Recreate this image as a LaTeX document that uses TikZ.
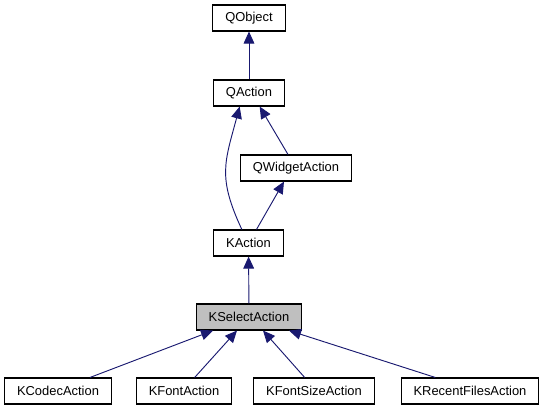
\documentclass[tikz,border=0pt]{standalone}
\usepackage{fontspec}
\setmainfont{Liberation Sans}
\usetikzlibrary{arrows.meta,positioning}
\definecolor{edgeblue}{HTML}{191970}
\definecolor{selgrey}{HTML}{BFBFBF}

\begin{document}
\begin{tikzpicture}[x=0.75pt,y=-0.75pt,>={Triangle[length=9pt,width=8pt]}]
\tikzset{cls/.style={draw,thick,fill=white,minimum height=19.5pt,inner xsep=9.3pt,inner ysep=0pt,
    font=\fontsize{9.7pt}{11pt}\selectfont},
  inh/.style={->,edgeblue,line width=0.7pt}}
\useasboundingbox (0,0) rectangle (544,411);
% base classes
\node[cls] (qobject) at (249,18) {QObject};
\node[cls] (qaction) at (249,93) {QAction};
\node[cls] (qwidgetaction) at (296,168) {QWidgetAction};
\node[cls] (kaction) at (248.5,243) {KAction};
\node[cls,fill=selgrey] (kselectaction) at (249,317) {KSelectAction};
% derived classes
\node[cls] (kcodecaction) at (58,391) {KCodecAction};
\node[cls] (kfontaction) at (184,391) {KFontAction};
\node[cls] (kfontsizeaction) at (314,391) {KFontSizeAction};
\node[cls] (krecentfilesaction) at (470,391) {KRecentFilesAction};
% inheritance
\draw[inh] (qaction) -- (qobject);
\draw[inh] ([xshift=-5pt]kaction.north) to[out=115,in=-105,looseness=1.2] ([xshift=-7pt]qaction.south);
\draw[inh] ([xshift=-6pt]qwidgetaction.north) -- ([xshift=8pt]qaction.south);
\draw[inh] ([xshift=6pt]kaction.north) -- ([xshift=-9pt]qwidgetaction.south);
\draw[inh] (kselectaction) -- (kaction);
\draw[inh] ([xshift=24pt]kcodecaction.north) -- ([xshift=-27pt]kselectaction.south);
\draw[inh] ([xshift=8pt]kfontaction.north) -- ([xshift=-9pt]kselectaction.south);
\draw[inh] ([xshift=-7pt]kfontsizeaction.north) -- ([xshift=10.5pt]kselectaction.south);
\draw[inh] ([xshift=-26pt]krecentfilesaction.north) -- ([xshift=30pt]kselectaction.south);
\end{tikzpicture}
\end{document}
